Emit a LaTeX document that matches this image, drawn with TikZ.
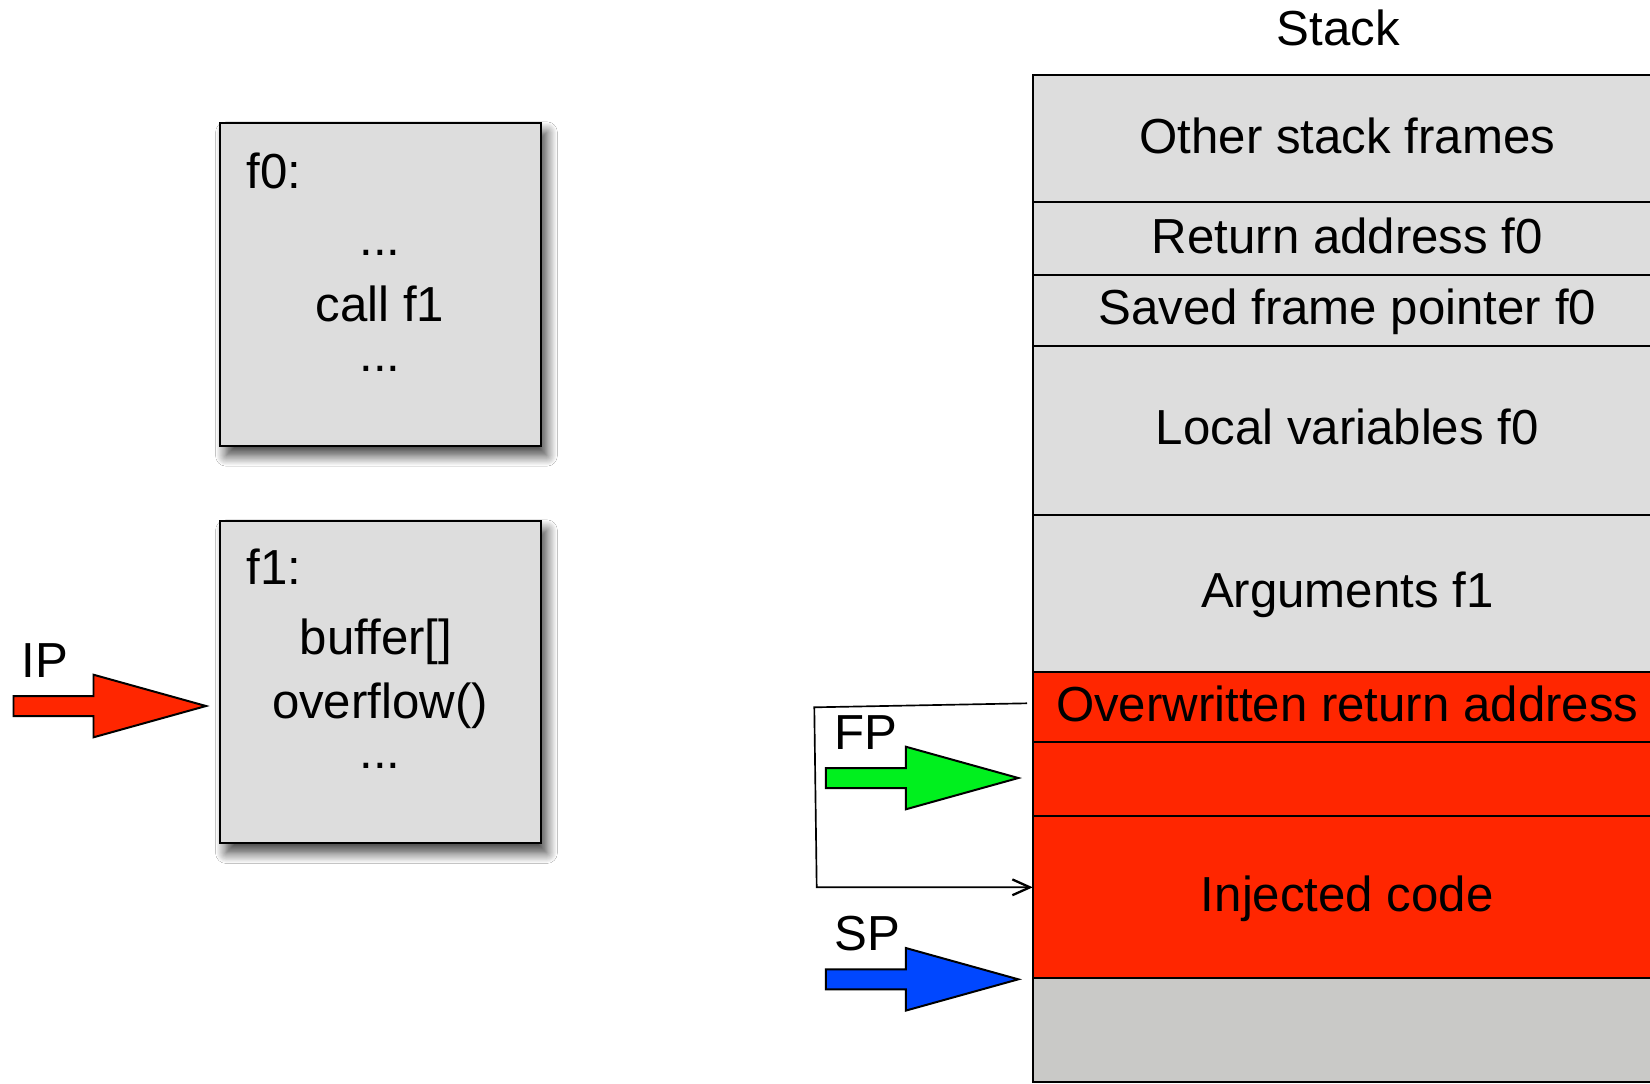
\documentclass[tikz,border=0pt]{standalone}
\usepackage{fontspec}
\setmainfont{Liberation Sans}
\usetikzlibrary{arrows.meta,shadows.blur}

\definecolor{boxgray}{HTML}{DDDDDD}
\definecolor{lowgray}{HTML}{C9C9C7}
\definecolor{hotred}{HTML}{FF2600}
\definecolor{fpgreen}{HTML}{00F01E}
\definecolor{spblue}{HTML}{0047FF}

\tikzset{
  pics/blockarrow/.style={code={
    \draw[pic actions] (0,0) -- (-112.5,-31.3) -- (-112.5,-10) -- (-192.5,-10)
      -- (-192.5,10) -- (-112.5,10) -- (-112.5,31.3) -- cycle;
  }}
}

\begin{document}
\begin{tikzpicture}[x=0.02cm, y=-0.02cm,
  big/.style={font=\fontsize{28}{33.6}\selectfont},
  txt/.style={big, inner sep=0, anchor=base},
  codebox/.style={draw, line width=1.13pt, fill=boxgray, minimum width=6.414cm,
    inner sep=0, outer sep=0, anchor=north west,
    blur shadow={shadow xshift=3.5pt, shadow yshift=-5.5pt,
      shadow blur radius=6pt, shadow blur steps=12, shadow opacity=75}},
  cell/.style={draw, line width=1.13pt, fill=boxgray, minimum width=12.586cm,
    inner sep=0, outer sep=0, anchor=north west, big,
    text height=20pt, text depth=3.6pt},
  pointer/.style={draw, line width=1.13pt, line join=miter},
  jump/.style={line width=0.95pt, -{Straight Barb[length=10pt,width=9pt,line width=1.3pt]}}
]
\useasboundingbox[fill=white] (0,0) rectangle (1650,1083);

% code of the two functions
\node[codebox, minimum height=6.466cm] (f0box) at (220,122.7) {};
\node[codebox, minimum height=6.452cm] (f1box) at (220,520.7) {};

\node[txt] (f0name) at (274,188.3) {f0:};
\node[txt] (f0pre)  at (380,255)   {...};
\node[txt] (f0call) at (380,321.7) {call f1};
\node[txt] (f0post) at (380,371.7) {...};

\node[txt] (f1name) at (274,584)   {f1:};
\node[txt] (f1buf)  at (376,654)   {buffer[]};
\node[txt] (f1ovf)  at (380,718.6) {overflow()};
\node[txt] (f1post) at (380,768.3) {...};

% the stack, growing downwards
\node[txt] (stacktitle) at (1338.3,45.7) {Stack};
\node[cell, minimum height=2.546cm] (other) at (1032.7,75)    {Other stack frames};
\node[cell, minimum height=1.454cm] (ret)   at (1032.7,202.3) {Return address f0};
\node[cell, minimum height=1.414cm] (sfp)   at (1032.7,275)   {Saved frame pointer f0};
\node[cell, minimum height=3.392cm] (loc)   at (1032.7,345.7) {Local variables f0};
\node[cell, minimum height=3.130cm] (args)  at (1032.7,515.3) {Arguments f1};
\node[cell, fill=hotred, minimum height=1.404cm] (ow)  at (1032.7,671.8) {Overwritten return address};
\node[cell, fill=hotred, minimum height=1.484cm] (pad) at (1032.7,742)   {};
\node[cell, fill=hotred, minimum height=3.230cm] (inj) at (1032.7,816.2) {Injected code};
\node[cell, fill=lowgray, minimum height=2.082cm] (free) at (1032.7,977.7) {};

% register pointers
\node[txt] (iplbl) at (45,677.3) {IP};
\node[txt] (fplbl) at (865.5,749) {FP};
\node[txt] (splbl) at (867,950) {SP};

\coordinate (iptip) at (206,706);
\coordinate (fptip) at (1018.3,778);
\coordinate (sptip) at (1018.3,979.3);
\pic[pointer, fill=hotred]  at (iptip) {blockarrow};
\pic[pointer, fill=fpgreen] at (fptip) {blockarrow};
\pic[pointer, fill=spblue]  at (sptip) {blockarrow};

% return jumps into the injected code
\coordinate (jmpA) at (814.3,707.3);
\coordinate (jmpB) at (816.7,887.3);
\draw[jump] ([xshift=-0.114cm, yshift=0.072cm]ow.west) -- (jmpA) -- (jmpB)
  -- (jmpB -| inj.west);
\end{tikzpicture}
\end{document}
